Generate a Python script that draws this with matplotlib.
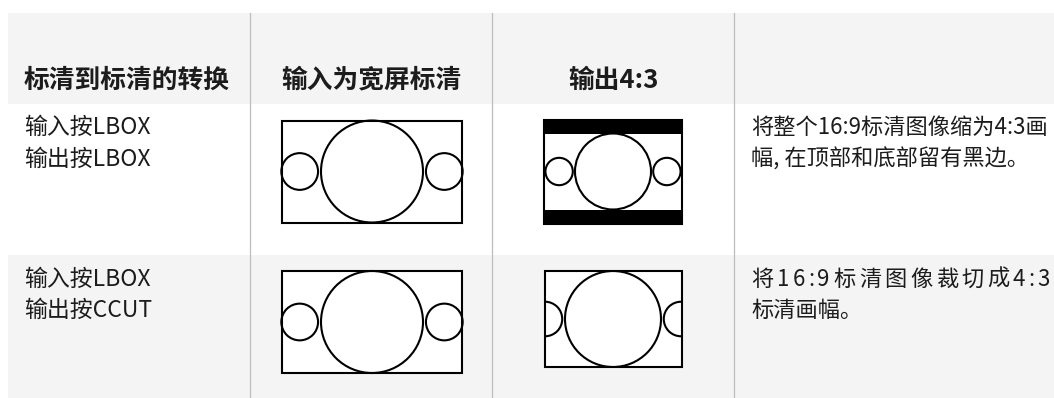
import matplotlib
matplotlib.use("Agg")
import matplotlib.pyplot as plt
from matplotlib.patches import Rectangle, Circle

plt.rcParams['font.family'] = ['Noto Sans CJK SC', 'DejaVu Sans']

# table content
headers = ['标清到标清的转换', '输入为宽屏标清', '输出4:3']
row_labels = [['输入按LBOX', '输出按LBOX'],
              ['输入按LBOX', '输出按CCUT']]
descriptions = [['将整个16:9标清图像缩为4:3画', '幅, 在顶部和底部留有黑边。'],
                ['将16:9标清图像裁切成4:3', '标清画幅。']]
output_modes = ['LBOX', 'CCUT']

W, H = 1054, 398
grey = '#f4f4f4'
txt = '#1c1c1c'

fig = plt.figure(figsize=(W / 100, H / 100), dpi=100)
ax = fig.add_axes([0, 0, 1, 1])
ax.set_xlim(0, W)
ax.set_ylim(H, 0)
ax.axis('off')

col_x = [8, 250, 492, 734, W]
head_top, head_bot = 13, 104
row_top = [104, 255]
row_bot = [255, H]
row_bg = ['white', grey]

# backgrounds
ax.add_patch(Rectangle((8, head_top), W - 8, head_bot - head_top, color=grey, lw=0))
for i in range(2):
    ax.add_patch(Rectangle((8, row_top[i]), W - 8, row_bot[i] - row_top[i], color=row_bg[i], lw=0))
for x in col_x[1:4]:
    ax.plot([x, x], [head_top, H], color='#bdbdbd', lw=0.9)

# headers
ax.text(24, 80, headers[0], fontsize=18.5, fontweight='bold', color=txt, va='center', ha='left')
ax.text((col_x[1] + col_x[2]) / 2, 80, headers[1], fontsize=18.5, fontweight='bold', color=txt, va='center', ha='center')
ax.text((col_x[2] + col_x[3]) / 2, 80, headers[2], fontsize=18.5, fontweight='bold', color=txt, va='center', ha='center')


def frame(cx, cy, h, clip=None):
    # 16:9 test pattern: big circle + two side circles
    w = h * 16 / 9
    s = 0.18 * h
    shapes = [Circle((cx, cy), h / 2), Circle((cx - w / 2 + s, cy), s), Circle((cx + w / 2 - s, cy), s)]
    for c in shapes:
        c.set_facecolor('none')
        c.set_edgecolor('black')
        c.set_linewidth(1.5)
        ax.add_patch(c)
        if clip is not None:
            c.set_clip_path(clip)


def spaced(x, y, s, width, **kw):
    r = fig.canvas.get_renderer()
    ws = []
    for ch in s:
        t = ax.text(0, 0, ch, **kw)
        ws.append(t.get_window_extent(r).width)
        t.remove()
    gap = (width - sum(ws)) / (len(s) - 1)
    for ch, w in zip(s, ws):
        ax.text(x, y, ch, ha='left', **kw)
        x += w + gap


line_y = [[127, 159], [279, 310]]
for i in range(2):
    for j in range(2):
        ax.text(24, line_y[i][j], row_labels[i][j], fontsize=16.5, color=txt, va='center')

    # input: widescreen SD
    cy = (row_top[i] + row_bot[i]) / 2 - 8 if i == 0 else 322
    cx_in = (col_x[1] + col_x[2]) / 2 + 1
    ax.add_patch(Rectangle((cx_in - 90, cy - 51), 180, 102, fc='white', ec='black', lw=1.5))
    frame(cx_in, cy, 102)

    # output 4:3
    cx_out = (col_x[2] + col_x[3]) / 2
    if output_modes[i] == 'LBOX':
        rw, rh = 138, 104
        box = Rectangle((cx_out - rw / 2, cy - rh / 2), rw, rh, fc='white', ec='black', lw=1.5)
        ax.add_patch(box)
        ax.add_patch(Rectangle((cx_out - rw / 2, cy - rh / 2), rw, 14, color='black', lw=0))
        ax.add_patch(Rectangle((cx_out - rw / 2, cy + rh / 2 - 14), rw, 14, color='black', lw=0))
        frame(cx_out, cy, rh - 28)
    else:
        rw, rh = 137, 96
        cy2 = cy - 3
        box = Rectangle((cx_out - rw / 2, cy2 - rh / 2), rw, rh, fc='white', ec='black', lw=1.5)
        ax.add_patch(box)
        frame(cx_out, cy2, rh, clip=box)

# descriptions
ax.text(751, line_y[0][0], descriptions[0][0], fontsize=16, color=txt, va='center')
ax.text(751, line_y[0][1], descriptions[0][1], fontsize=16, color=txt, va='center')
spaced(751, line_y[1][0], descriptions[1][0], 299, fontsize=16, color=txt, va='center')
ax.text(751, line_y[1][1], descriptions[1][1], fontsize=16, color=txt, va='center')

plt.savefig('out.png', dpi=100)
